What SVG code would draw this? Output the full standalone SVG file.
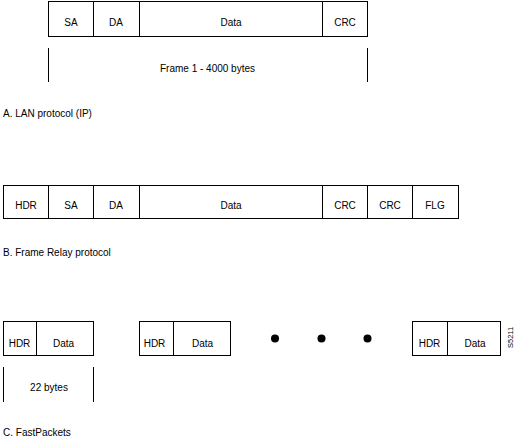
<svg xmlns="http://www.w3.org/2000/svg" width="515" height="438" viewBox="0 0 515 438">
<style>
.b{fill:#fff;stroke:#000;stroke-width:1}
.l{stroke:#000;stroke-width:1;fill:none}
text{font-family:"Liberation Sans",Arial,sans-serif;font-size:10px;fill:#000}
.c{text-anchor:middle}
</style>
<rect width="515" height="438" fill="#fff"/>
<g id="frameA">
<rect class="b" x="48.5" y="1.5" width="319" height="35"/>
<line class="l" x1="93.5" y1="1.5" x2="93.5" y2="36.5"/>
<line class="l" x1="139.5" y1="1.5" x2="139.5" y2="36.5"/>
<line class="l" x1="322.5" y1="1.5" x2="322.5" y2="36.5"/>
<text class="c" x="71" y="26">SA</text>
<text class="c" x="116" y="26">DA</text>
<text class="c" x="231" y="26">Data</text>
<text class="c" x="345" y="26">CRC</text>
</g>
<g id="spanA">
<line class="l" x1="48.5" y1="48" x2="48.5" y2="82"/>
<line class="l" x1="367.5" y1="48" x2="367.5" y2="82"/>
<text class="c" x="207.5" y="72">Frame 1 - 4000 bytes</text>
</g>
<text x="3" y="117">A. LAN protocol (IP)</text>
<g id="frameB">
<rect class="b" x="3.5" y="185.5" width="455" height="33"/>
<line class="l" x1="48.5" y1="185.5" x2="48.5" y2="218.5"/>
<line class="l" x1="93.5" y1="185.5" x2="93.5" y2="218.5"/>
<line class="l" x1="139.5" y1="185.5" x2="139.5" y2="218.5"/>
<line class="l" x1="322.5" y1="185.5" x2="322.5" y2="218.5"/>
<line class="l" x1="367.5" y1="185.5" x2="367.5" y2="218.5"/>
<line class="l" x1="412.5" y1="185.5" x2="412.5" y2="218.5"/>
<text class="c" x="26" y="209">HDR</text>
<text class="c" x="71" y="209">SA</text>
<text class="c" x="116" y="209">DA</text>
<text class="c" x="231" y="209">Data</text>
<text class="c" x="345" y="209">CRC</text>
<text class="c" x="390" y="209">CRC</text>
<text class="c" x="435" y="209">FLG</text>
</g>
<text x="3" y="256">B. Frame Relay protocol</text>
<g id="packet1">
<rect class="b" x="3.5" y="321.5" width="90" height="34"/>
<line class="l" x1="36.5" y1="321.5" x2="36.5" y2="355.5"/>
<text class="c" x="19.5" y="346.5">HDR</text>
<text class="c" x="63.5" y="346.5">Data</text>
</g>
<g id="packet2">
<rect class="b" x="139.5" y="321.5" width="91" height="34"/>
<line class="l" x1="173.5" y1="321.5" x2="173.5" y2="355.5"/>
<text class="c" x="154.5" y="346.5">HDR</text>
<text class="c" x="202.5" y="346.5">Data</text>
</g>
<g id="dots">
<circle cx="275" cy="338.5" r="4"/>
<circle cx="321.5" cy="338.5" r="4"/>
<circle cx="367.5" cy="338.5" r="4"/>
</g>
<g id="packet3">
<rect class="b" x="412.5" y="321.5" width="88" height="34"/>
<line class="l" x1="447.5" y1="321.5" x2="447.5" y2="355.5"/>
<text class="c" x="429.5" y="346.5">HDR</text>
<text class="c" x="475" y="346.5">Data</text>
</g>
<text x="513" y="348" transform="rotate(-90 513 348)" style="font-size:7.5px">S5211</text>
<g id="spanC">
<line class="l" x1="3.5" y1="367" x2="3.5" y2="402"/>
<line class="l" x1="93.5" y1="367" x2="93.5" y2="402"/>
<text class="c" x="49" y="391">22 bytes</text>
</g>
<text x="3" y="436">C. FastPackets</text>
</svg>
